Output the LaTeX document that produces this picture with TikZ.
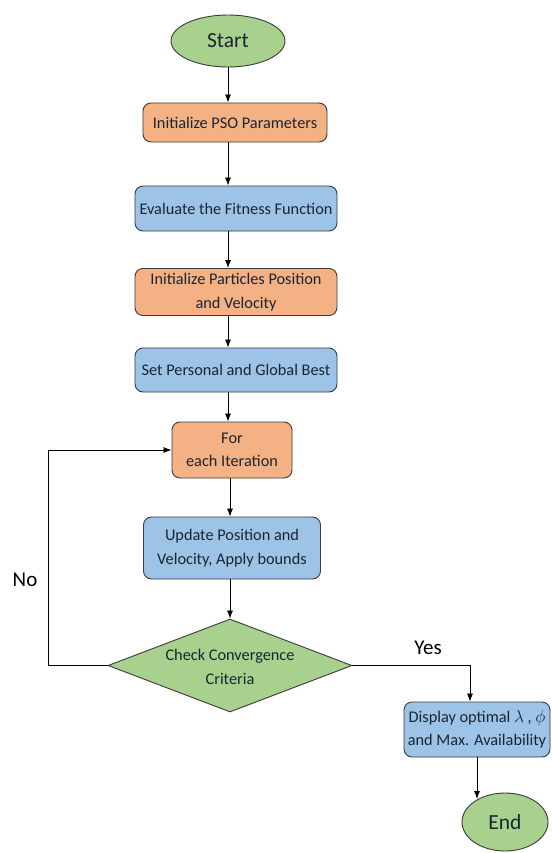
\documentclass[tikz,border=0pt]{standalone}
\usepackage{fontspec}
\setmainfont{Carlito}
\usetikzlibrary{shapes.geometric,arrows.meta,calc}
\definecolor{orng}{HTML}{F4B183}
\definecolor{blu}{HTML}{9DC3E6}
\definecolor{grn}{HTML}{A9D18E}
\definecolor{edge}{HTML}{3A3A3A}
\definecolor{txt}{HTML}{1A2533}
\begin{document}
\begin{tikzpicture}[x=1pt,y=-1pt,
  box/.style={draw=edge,line width=0.9pt,rounded corners=8pt,inner sep=0pt,align=center,
    text=txt,font=\fontsize{16.3}{23.5}\selectfont},
  obox/.style={box,fill=orng},
  bbox/.style={box,fill=blu},
  term/.style={ellipse,draw=edge,line width=0.9pt,fill=grn,inner sep=0pt,text=txt,
    font=\fontsize{21.5}{24}\selectfont},
  dec/.style={diamond,draw=edge,line width=0.9pt,fill=grn,inner sep=0pt},
  dectext/.style={align=center,text=txt,font=\fontsize{16.3}{23.5}\selectfont},
  arr/.style={draw=black,line width=0.8pt,-{Latex[length=8pt,width=6pt]}},
  lbl/.style={text=black,font=\fontsize{21}{22}\selectfont}]
\useasboundingbox (0,0) rectangle (551,853);
\fill[white] (0,0) rectangle (551,853);
\coordinate (axis) at (228,0);
\node[term,minimum width=114pt,minimum height=52pt] (start) at (228,41) {Start};
\node[obox,minimum width=184pt,minimum height=39pt] (pso) at (235,122.5) {Initialize PSO Parameters};
\node[bbox,minimum width=202pt,minimum height=45pt] (eval) at (236,208.5) {Evaluate the Fitness Function};
\node[obox,minimum width=202pt,minimum height=47pt] (init) at (236,292) {Initialize Particles Position\\and Velocity};
\node[bbox,minimum width=202pt,minimum height=44pt] (best) at (236,370) {Set Personal and Global Best};
\node[obox,minimum width=120pt,minimum height=56pt] (iter) at (232,450) {For\\each Iteration};
\node[bbox,minimum width=177pt,minimum height=62pt] (upd) at (232,548) {Update Position and\\Velocity, Apply bounds};
\node[dec,minimum width=244pt,minimum height=93pt] (chk) at (230,665.5) {};
\node[dectext] (chkt) at (230,667) {Check Convergence\\Criteria};
\node[bbox,minimum width=146pt,minimum height=55pt] (disp) at (477,729.5) {Display optimal $\lambda$ , $\phi$\\and Max. Availability};
\node[term,minimum width=86pt,minimum height=58pt] (end) at (505,822) {End};
\coordinate (noc) at (48,665.5);
\coordinate (yesc) at (470,665.5);
\node[lbl] (no) at (25,580) {No};
\node[lbl] (yes) at (428,648) {Yes};
\draw[arr] (start.south -| axis) -- (pso.north -| axis);
\draw[arr] (pso.south -| axis) -- (eval.north -| axis);
\draw[arr] (eval.south -| axis) -- (init.north -| axis);
\draw[arr] (init.south -| axis) -- (best.north -| axis);
\draw[arr] (best.south -| axis) -- (iter.north -| axis);
\draw[arr] (iter.south -| chk.north) -- (upd.north -| chk.north);
\draw[arr] (upd.south -| chk.north) -- (chk.north);
\draw[arr] (chk.west) -- (noc) |- (iter.west);
\draw[arr] (chk.east) -- (yesc) -- (disp.north -| yesc);
\draw[arr] (disp.south) -- (disp.south |- end.140);
\end{tikzpicture}
\end{document}
